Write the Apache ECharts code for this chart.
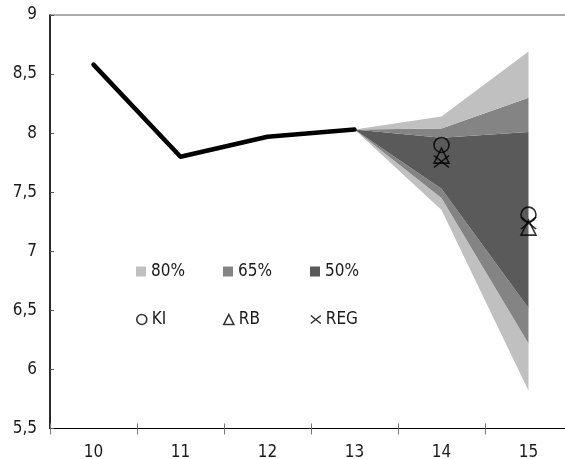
<!DOCTYPE html>
<html>
<head>
<meta charset="utf-8">
<script src="https://cdn.jsdelivr.net/npm/echarts@6/dist/echarts.min.js"></script>
<style>
  html, body { margin: 0; padding: 0; background: #fff; }
  #chart { width: 565px; height: 459px; }
</style>
</head>
<body>
<div id="chart"></div>
<script>
// Categories on the x axis
const categories = ['10', '11', '12', '13', '14', '15'];

// Observed path (ends where the forecast fan starts)
const actual = [8.58, 7.80, 7.97, 8.03, '-', '-'];

// Fan bounds for periods 13, 14, 15
const fanCats = ['13', '14', '15'];
const lower80 = [8.03, 7.35, 5.82];
const lower65 = [8.03, 7.45, 6.22];
const lower50 = [8.03, 7.53, 6.52];
const upper50 = [8.03, 7.96, 8.01];
const upper65 = [8.03, 8.04, 8.30];
const upper80 = [8.03, 8.14, 8.69];

// Point forecasts for periods 14 and 15
const pointCats = ['14', '15'];
const ki = [7.90, 7.31];
const rb = [7.81, 7.20];
const reg = [7.76, 7.24];

// Y tick labels use a decimal comma
const yTickLabel = v => String(v).replace('.', ',');

const FONT = '"Liberation Sans Narrow", "DejaVu Sans Condensed", sans-serif';
const C80 = '#c0c0c0', C65 = '#848484', C50 = '#5a5a5a';

// Place fan values on the full category axis
function onAxis(cats, vals) {
  return categories.map(c => {
    const i = cats.indexOf(c);
    return i < 0 ? '-' : vals[i];
  });
}
function diff(a, b) { return a.map((v, i) => +(v - b[i]).toFixed(4)); }

const bandStack = [
  { name: null, vals: lower80, color: 'transparent' },
  { name: '80%', vals: diff(lower65, lower80), color: C80 },
  { name: '65%', vals: diff(lower50, lower65), color: C65 },
  { name: '50%', vals: diff(upper50, lower50), color: C50 },
  { name: '65%', vals: diff(upper65, upper50), color: C65 },
  { name: '80%', vals: diff(upper80, upper65), color: C80 }
];

const fanSeries = bandStack.map((b, i) => ({
  type: 'line',
  name: b.name || 'base',
  stack: 'fan',
  data: onAxis(fanCats, b.vals),
  symbol: 'none',
  lineStyle: { width: 0 },
  itemStyle: { color: b.color },
  areaStyle: { color: b.color, opacity: 1 },
  silent: true,
  z: 1
}));

const crossPath = 'path://M0,0L10,8M10,0L0,8';

const markerStyle = { color: 'transparent', borderColor: '#000', borderWidth: 1.6 };

const series = fanSeries.concat([
  {
    type: 'line',
    name: 'actual',
    data: actual,
    symbol: 'none',
    lineStyle: { color: '#000', width: 4.5, cap: 'round', join: 'round' },
    z: 3
  },
  {
    type: 'scatter', name: 'KI', symbol: 'circle', symbolSize: 15,
    data: onAxis(pointCats, ki), itemStyle: markerStyle, z: 5
  },
  {
    type: 'scatter', name: 'RB', symbol: 'triangle', symbolSize: [15, 15],
    data: onAxis(pointCats, rb), itemStyle: markerStyle, z: 5
  },
  {
    type: 'scatter', name: 'REG', symbol: crossPath, symbolSize: [15, 12],
    data: onAxis(pointCats, reg), itemStyle: markerStyle, z: 5
  }
]);

function legendAt(name, left, top, icon, style) {
  return {
    data: [name],
    left: left, top: top,
    padding: 0,
    itemWidth: 10, itemHeight: 10, itemGap: 0,
    icon: icon,
    itemStyle: style,
    selectedMode: false,
    textStyle: { fontFamily: FONT, fontSize: 17, color: '#1a1a1a', padding: [0, 0, 0, 0] }
  };
}
const iconStroke = { color: 'transparent', borderColor: '#000', borderWidth: 1.6 };

const chart = echarts.init(document.getElementById('chart'), null, { renderer: 'canvas' });
chart.setOption({
  animation: false,
  backgroundColor: '#fff',
  grid: {
    left: 50, top: 15, width: 522, bottom: 30.5,
    outerBoundsMode: 'none',
    containLabel: false,
    show: true, borderColor: '#595959', borderWidth: 1, backgroundColor: 'transparent'
  },
  legend: [
    legendAt('80%', 136, 263, 'rect', { color: C80 }),
    legendAt('65%', 223, 263, 'rect', { color: C65 }),
    legendAt('50%', 310, 263, 'rect', { color: C50 }),
    legendAt('KI', 136, 311, 'circle', iconStroke),
    legendAt('RB', 223, 311, 'triangle', iconStroke),
    legendAt('REG', 310, 311, crossPath, iconStroke)
  ],
  xAxis: [
    {
      type: 'category',
      data: categories,
      boundaryGap: true,
      axisLine: { lineStyle: { color: '#000', width: 1 } },
      axisTick: { show: true, length: 6, lineStyle: { color: '#777' } },
      axisLabel: { fontFamily: FONT, fontSize: 17, color: '#1a1a1a', margin: 16 },
      splitLine: { show: false }
    },
    {
      type: 'category',
      data: categories,
      position: 'bottom',
      boundaryGap: true,
      axisLine: { show: false },
      axisTick: { show: true, inside: true, length: 5, lineStyle: { color: '#777' } },
      axisLabel: { show: false },
      splitLine: { show: false }
    }
  ],
  yAxis: {
    type: 'value',
    min: 5.5, max: 9, interval: 0.5,
    axisLine: { show: true, lineStyle: { color: '#000', width: 1.5 } },
    axisTick: { show: true, inside: true, length: 4, lineStyle: { color: '#555' } },
    axisLabel: { fontFamily: FONT, fontSize: 17, color: '#1a1a1a', margin: 13, formatter: yTickLabel },
    splitLine: { show: false }
  },
  series: series
});
</script>
</body>
</html>
